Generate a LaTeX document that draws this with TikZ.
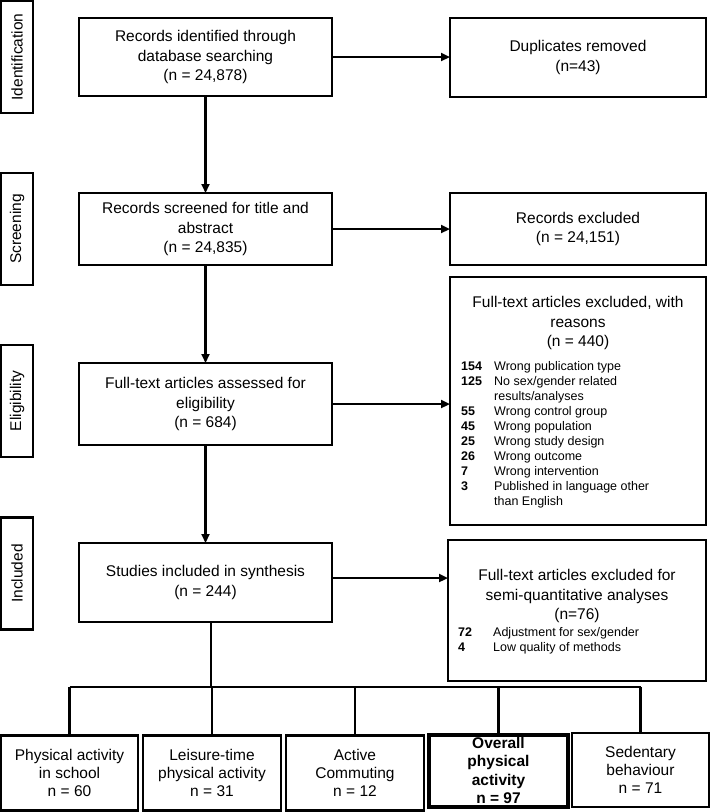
\documentclass[tikz,border=0pt]{standalone}
\usepackage{fontspec}
\setmainfont{Liberation Sans}
\usetikzlibrary{arrows.meta}
\begin{document}
\begin{tikzpicture}[x=1pt,y=-1pt,
  box/.style={draw, line width=2.2pt, inner sep=0pt, outer sep=0pt, align=center, font=\fontsize{15.5}{19.5}\selectfont},
  phase/.style={box, rotate=90, minimum width=112pt, minimum height=32pt},
  bbox/.style={box, minimum width=137pt, minimum height=75pt, font=\fontsize{15.5}{18}\selectfont},
  txt/.style={inner sep=0pt, align=center, font=\fontsize{15.5}{19.5}\selectfont},
  list/.style={inner sep=0pt, align=left, font=\fontsize{12.5}{15}\selectfont},
  arr/.style={line width=2.2pt, -{Triangle[length=9pt,width=8pt]}},
  ln/.style={line width=2.2pt},
  ]
\useasboundingbox (0,0) rectangle (710,812);

% phase labels
\node[phase] (pid) at (17,57) {Identification};
\node[phase] (psc) at (17,229) {Screening};
\node[phase] (pel) at (17,401) {Eligibility};
\node[phase] (pin) at (17,573.5) {Included};

% main column
\node[box, minimum width=253pt, minimum height=78pt] (id) at (205.5,57)
  {Records identified through\\database searching\\(n = 24,878)};
\node[box, minimum width=253pt, minimum height=72pt] (scr) at (205.5,229)
  {Records screened for title and\\abstract\\(n = 24,835)};
\node[box, minimum width=253pt, minimum height=82pt] (ft) at (205.5,404)
  {Full-text articles assessed for\\eligibility\\(n = 684)};
\node[box, minimum width=253pt, minimum height=79pt] (inc) at (205.5,582.5)
  {Studies included in synthesis\\(n = 244)};

% right column
\node[box, minimum width=256pt, minimum height=79pt] (dup) at (578,57.5)
  {Duplicates removed\\(n=43)};
\node[box, minimum width=256pt, minimum height=72pt] (exc) at (578,229)
  {Records excluded\\(n = 24,151)};
\node[box, minimum width=256pt, minimum height=248pt] (ftx) at (578,401) {};
\node[txt] (ftxh) at (578,323) {Full-text articles excluded, with\\reasons\\(n = 440)};
\node[list, anchor=west] (ftxl) at (461,434.5) {%
\makebox[33pt][l]{\bfseries 154}Wrong publication type\\
\makebox[33pt][l]{\bfseries 125}No sex/gender related\\
\hspace*{33pt}results/analyses\\
\makebox[33pt][l]{\bfseries 55}Wrong control group\\
\makebox[33pt][l]{\bfseries 45}Wrong population\\
\makebox[33pt][l]{\bfseries 25}Wrong study design\\
\makebox[33pt][l]{\bfseries 26}Wrong outcome\\
\makebox[33pt][l]{\bfseries 7}Wrong intervention\\
\makebox[33pt][l]{\bfseries 3}Published in language other\\
\hspace*{33pt}than English};

\node[box, minimum width=258pt, minimum height=141pt] (semi) at (577,610.5) {};
\node[txt] (semih) at (577,596) {Full-text articles excluded for\\semi-quantitative analyses\\(n=76)};
\node[list, anchor=west] (semil) at (458,640.5) {%
\makebox[35pt][l]{\bfseries 72}Adjustment for sex/gender\\
\makebox[35pt][l]{\bfseries 4}Low quality of methods};

% bottom row
\node[bbox] (b1) at (69.5,773) {Physical activity\\in school\\n = 60};
\node[bbox, minimum width=138pt] (b2) at (212,773) {Leisure-time\\physical activity\\n = 31};
\node[bbox, minimum width=138pt] (b3) at (355,773) {Active\\Commuting\\n = 12};
\node[bbox, line width=4pt, minimum width=139pt, minimum height=72pt, font=\fontsize{15.5}{18.5}\selectfont\bfseries] (b4) at (498.5,770.5) {Overall\\physical\\activity\\n = 97};
\node[bbox, minimum height=74pt] (b5) at (640.5,770) {Sedentary\\behaviour\\n = 71};

% connectors
\draw[arr] (id.east) -- (id.east -| dup.west);
\draw[arr] (id.south) -- (scr.north);
\draw[arr] (scr.east) -- (scr.east -| exc.west);
\draw[arr] (scr.south) -- (ft.north);
\draw[arr] (ft.east) -- (ft.east -| ftx.west);
\draw[arr] (ft.south) -- (inc.north);
\draw[arr] ([yshift=4.5pt]inc.east) coordinate (a1) -- (a1 -| semi.west);

\coordinate (bus) at (211,687);
\draw[ln] ([xshift=5.5pt]inc.south) -- (bus);
\draw[ln] (b1.north |- bus) -- (b5.north |- bus);
\draw[ln] (b1.north |- bus) -- (b1.north);
\draw[ln] (b2.north |- bus) -- (b2.north);
\draw[ln] (b3.north |- bus) -- (b3.north);
\draw[ln] (b4.north |- bus) -- (b4.north);
\draw[ln] (b5.north |- bus) -- (b5.north);
\end{tikzpicture}
\end{document}
